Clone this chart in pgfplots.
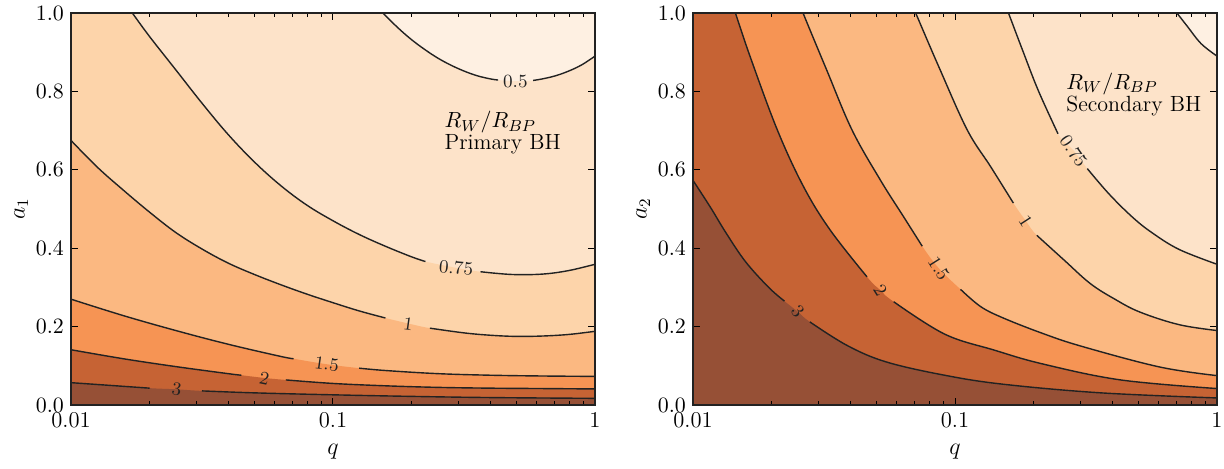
\documentclass[border=0pt]{standalone}
\usepackage{pgfplots}
\pgfplotsset{compat=1.18}
\definecolor{c0}{HTML}{FEF0E2}
\definecolor{c1}{HTML}{FDE3C9}
\definecolor{c2}{HTML}{FDD4AA}
\definecolor{c3}{HTML}{FBB881}
\definecolor{c4}{HTML}{F69454}
\definecolor{c5}{HTML}{C66334}
\definecolor{c6}{HTML}{965036}
\definecolor{lc}{HTML}{222222}
\pgfplotsset{
 myax/.style={
  width=262pt,height=196pt,scale only axis,
  xmin=0.01,xmax=1,ymin=0,ymax=1,
  xtick={0.01,0.1,1}, xticklabels={0.01,0.1,1},
  ytick={0,0.2,0.4,0.6,0.8,1},
  yticklabel style={/pgf/number format/.cd,fixed,fixed zerofill,precision=1},
  tick label style={font=\fontsize{11.3}{13}\selectfont},
  label style={font=\fontsize{12}{14}\selectfont},
  major tick length=3.5pt, minor tick length=2pt,
  tick style={black, line width=0.5pt},
  axis line style={line width=0.6pt, lc},
  axis on top,
  axis background/.style={fill=c0},
  xlabel={$q$},
  xlabel style={at={(axis description cs:0.5,-0.12)},anchor=center},
  ylabel style={at={(axis description cs:-0.095,0.5)},anchor=center},
 },
 cl/.style={draw=lc, line width=0.7pt, no marks, smooth, tension=0.6},
 fl/.style={draw=none, fill=#1, no marks, smooth, tension=0.6},
}
\tikzset{
 lab/.style={font=\fontsize{9.3}{11}\selectfont, inner sep=0pt, text=lc},
 ann/.style={anchor=west, inner sep=0pt, font=\fontsize{11}{13}\selectfont},
}
\begin{document}
\begin{tikzpicture}
\useasboundingbox (0,0) rectangle (612pt,234pt);
% ---------------- Primary BH ----------------
\begin{axis}[xmode=log, myax, at={(35.5pt,31.5pt)}, anchor=south west, ylabel={$a_1$}]
\addplot[fl=c1] coordinates {(0.01,1.04)(0.1349,1.04)(0.1549,1)(0.1778,0.961)(0.1995,0.932)(0.2239,0.907)(0.2512,0.885)(0.2818,0.867)(0.3162,0.852)(0.3548,0.840)(0.3981,0.832)(0.4266,0.829)(0.4966,0.826)(0.5808,0.828)(0.631,0.832)(0.7079,0.840)(0.7943,0.852)(0.8913,0.868)(1,0.89)} \closedcycle;
\addplot[fl=c2] coordinates {(0.01,1.05)(0.0151,1.05)(0.01714,1)(0.01995,0.94)(0.02512,0.855)(0.03162,0.77)(0.03981,0.69)(0.05012,0.62)(0.0631,0.56)(0.07943,0.51)(0.1,0.47)(0.1259,0.435)(0.1585,0.405)(0.1995,0.378)(0.2254,0.366)(0.2951,0.35)(0.3656,0.34)(0.4808,0.333)(0.631,0.334)(0.7943,0.343)(1,0.359)} \closedcycle;
\addplot[fl=c3] coordinates {(0.01,0.675)(0.01259,0.607)(0.01585,0.548)(0.01995,0.492)(0.02512,0.44)(0.03162,0.398)(0.03981,0.362)(0.05012,0.333)(0.0631,0.307)(0.07943,0.283)(0.1,0.261)(0.1259,0.24)(0.1585,0.222)(0.1936,0.208)(0.2344,0.196)(0.3162,0.184)(0.3981,0.178)(0.5012,0.175)(0.631,0.176)(0.7943,0.18)(1,0.188)} \closedcycle;
\addplot[fl=c4] coordinates {(0.01,0.27)(0.01585,0.228)(0.02512,0.19)(0.03981,0.155)(0.0631,0.124)(0.07079,0.118)(0.09462,0.104)(0.1259,0.094)(0.1585,0.088)(0.2512,0.08)(0.3981,0.076)(0.631,0.074)(1,0.073)} \closedcycle;
\addplot[fl=c5] coordinates {(0.01,0.141)(0.01585,0.118)(0.02512,0.098)(0.03981,0.08)(0.04467,0.076)(0.0547,0.069)(0.06607,0.064)(0.1,0.055)(0.1585,0.049)(0.2512,0.045)(0.3981,0.043)(0.631,0.042)(1,0.041)} \closedcycle;
\addplot[fl=c6] coordinates {(0.01,0.057)(0.01413,0.05)(0.01995,0.043)(0.02529,0.04)(0.03162,0.036)(0.05012,0.031)(0.1,0.026)(0.1995,0.022)(0.3981,0.019)(1,0.017)} \closedcycle;
% contour lines
\addplot[cl] coordinates {(0.1349,1.04)(0.1549,1)(0.1778,0.961)(0.1995,0.932)(0.2239,0.907)(0.2512,0.885)(0.2818,0.867)(0.3162,0.852)(0.3548,0.840)(0.3981,0.832)(0.4266,0.829)};
\addplot[cl] coordinates {(0.5808,0.828)(0.631,0.832)(0.7079,0.840)(0.7943,0.852)(0.8913,0.868)(1,0.89)};
\addplot[cl] coordinates {(0.0151,1.05)(0.01714,1)(0.01995,0.94)(0.02512,0.855)(0.03162,0.77)(0.03981,0.69)(0.05012,0.62)(0.0631,0.56)(0.07943,0.51)(0.1,0.47)(0.1259,0.435)(0.1585,0.405)(0.1995,0.378)(0.2254,0.366)};
\addplot[cl] coordinates {(0.3656,0.34)(0.4808,0.333)(0.631,0.334)(0.7943,0.343)(1,0.359)};
\addplot[cl] coordinates {(0.01,0.675)(0.01259,0.607)(0.01585,0.548)(0.01995,0.492)(0.02512,0.44)(0.03162,0.398)(0.03981,0.362)(0.05012,0.333)(0.0631,0.307)(0.07943,0.283)(0.1,0.261)(0.1259,0.24)(0.1585,0.222)};
\addplot[cl] coordinates {(0.2344,0.196)(0.3162,0.184)(0.3981,0.178)(0.5012,0.175)(0.631,0.176)(0.7943,0.18)(1,0.188)};
\addplot[cl] coordinates {(0.01,0.27)(0.01585,0.228)(0.02512,0.19)(0.03981,0.155)(0.0631,0.124)(0.07079,0.118)};
\addplot[cl] coordinates {(0.1259,0.094)(0.1585,0.088)(0.2512,0.08)(0.3981,0.076)(0.631,0.074)(1,0.073)};
\addplot[cl] coordinates {(0.01,0.141)(0.01585,0.118)(0.02512,0.098)(0.03981,0.08)(0.04467,0.076)};
\addplot[cl] coordinates {(0.06607,0.064)(0.1,0.055)(0.1585,0.049)(0.2512,0.045)(0.3981,0.043)(0.631,0.042)(1,0.041)};
\addplot[cl] coordinates {(0.01,0.057)(0.01413,0.05)(0.01995,0.043)};
\addplot[cl] coordinates {(0.03162,0.036)(0.05012,0.031)(0.1,0.026)(0.1995,0.022)(0.3981,0.019)(1,0.017)};
% labels
\node[lab] at (axis cs:0.4966,0.826) {0.5};
\node[lab,rotate=-5] at (axis cs:0.2951,0.35) {0.75};
\node[lab,rotate=-8] at (axis cs:0.1936,0.206) {1};
\node[lab,rotate=-8] at (axis cs:0.09462,0.104) {1.5};
\node[lab,rotate=-12] at (axis cs:0.0547,0.069) {2};
\node[lab,rotate=-8] at (axis cs:0.02529,0.04) {3};
\node[ann] at (axis cs:0.266,0.721) {$R_W/R_{BP}$};
\node[ann] at (axis cs:0.266,0.664) {Primary BH};
\end{axis}
% ---------------- Secondary BH ----------------
\begin{axis}[xmode=log, myax, at={(346.5pt,31.5pt)}, anchor=south west, ylabel={$a_2$}]
\addplot[fl=c1] coordinates {(0.01,1.04)(0.631,1.04)(0.703,1)(0.7727,0.965)(0.869,0.922)(1,0.89)} \closedcycle;
\addplot[fl=c2] coordinates {(0.01,1.06)(0.1479,1.06)(0.16,1)(0.1816,0.903)(0.208,0.802)(0.2472,0.692)(0.2838,0.649)(0.3199,0.603)(0.3864,0.539)(0.4742,0.48)(0.5636,0.44)(0.7161,0.397)(1,0.359)} \closedcycle;
\addplot[fl=c3] coordinates {(0.01,1.06)(0.06494,1.06)(0.07079,1)(0.0871,0.86)(0.1114,0.7015)(0.1368,0.608)(0.1671,0.515)(0.1862,0.47)(0.2051,0.433)(0.2606,0.37)(0.3281,0.31)(0.4074,0.27)(0.5082,0.237)(0.7161,0.205)(1,0.19)} \closedcycle;
\addplot[fl=c4] coordinates {(0.01,1.06)(0.02427,1.06)(0.0263,1)(0.03236,0.855)(0.04046,0.7015)(0.05188,0.574)(0.06368,0.48)(0.07499,0.405)(0.0867,0.349)(0.105,0.295)(0.1253,0.251)(0.1528,0.222)(0.2153,0.183)(0.3034,0.15)(0.604,0.097)(1,0.075)} \closedcycle;
\addplot[fl=c5] coordinates {(0.01,1.06)(0.01358,1.06)(0.01452,1)(0.0166,0.885)(0.02099,0.7015)(0.02642,0.557)(0.03342,0.446)(0.04613,0.327)(0.05188,0.293)(0.05834,0.2635)(0.0912,0.181)(0.1413,0.14)(0.2153,0.105)(0.4285,0.064)(1,0.042)} \closedcycle;
\addplot[fl=c6] coordinates {(0.01,0.573)(0.01164,0.505)(0.01334,0.44)(0.01585,0.366)(0.01945,0.30)(0.02234,0.265)(0.02512,0.238)(0.02793,0.212)(0.03873,0.152)(0.05458,0.11)(0.0912,0.076)(0.1528,0.053)(0.3606,0.031)(1,0.018)} \closedcycle;
% contour lines
\addplot[cl] coordinates {(0.631,1.04)(0.703,1)(0.7727,0.965)(0.869,0.922)(1,0.89)};
\addplot[cl] coordinates {(0.1479,1.06)(0.16,1)(0.1816,0.903)(0.208,0.802)(0.2472,0.692)};
\addplot[cl] coordinates {(0.3199,0.603)(0.3864,0.539)(0.4742,0.48)(0.5636,0.44)(0.7161,0.397)(1,0.359)};
\addplot[cl] coordinates {(0.06494,1.06)(0.07079,1)(0.0871,0.86)(0.1114,0.7015)(0.1368,0.608)(0.1671,0.515)};
\addplot[cl] coordinates {(0.2051,0.433)(0.2606,0.37)(0.3281,0.31)(0.4074,0.27)(0.5082,0.237)(0.7161,0.205)(1,0.19)};
\addplot[cl] coordinates {(0.02427,1.06)(0.0263,1)(0.03236,0.855)(0.04046,0.7015)(0.05188,0.574)(0.06368,0.48)(0.07499,0.405)};
\addplot[cl] coordinates {(0.105,0.295)(0.1253,0.251)(0.1528,0.222)(0.2153,0.183)(0.3034,0.15)(0.604,0.097)(1,0.075)};
\addplot[cl] coordinates {(0.01358,1.06)(0.01452,1)(0.0166,0.885)(0.02099,0.7015)(0.02642,0.557)(0.03342,0.446)(0.04613,0.327)};
\addplot[cl] coordinates {(0.05834,0.2635)(0.0912,0.181)(0.1413,0.14)(0.2153,0.105)(0.4285,0.064)(1,0.042)};
\addplot[cl] coordinates {(0.01,0.573)(0.01164,0.505)(0.01334,0.44)(0.01585,0.366)(0.01945,0.30)(0.02234,0.265)};
\addplot[cl] coordinates {(0.02793,0.212)(0.03873,0.152)(0.05458,0.11)(0.0912,0.076)(0.1528,0.053)(0.3606,0.031)(1,0.018)};
% labels
\node[lab,rotate=-55] at (axis cs:0.2838,0.647) {0.75};
\node[lab,rotate=-57] at (axis cs:0.1862,0.47) {1};
\node[lab,rotate=-58] at (axis cs:0.0867,0.349) {1.5};
\node[lab,rotate=-58] at (axis cs:0.05188,0.293) {2};
\node[lab,rotate=-50] at (axis cs:0.02512,0.238) {3};
\node[ann] at (axis cs:0.265,0.819) {$R_W/R_{BP}$};
\node[ann] at (axis cs:0.265,0.762) {Secondary BH};
\end{axis}
\end{tikzpicture}
\end{document}
